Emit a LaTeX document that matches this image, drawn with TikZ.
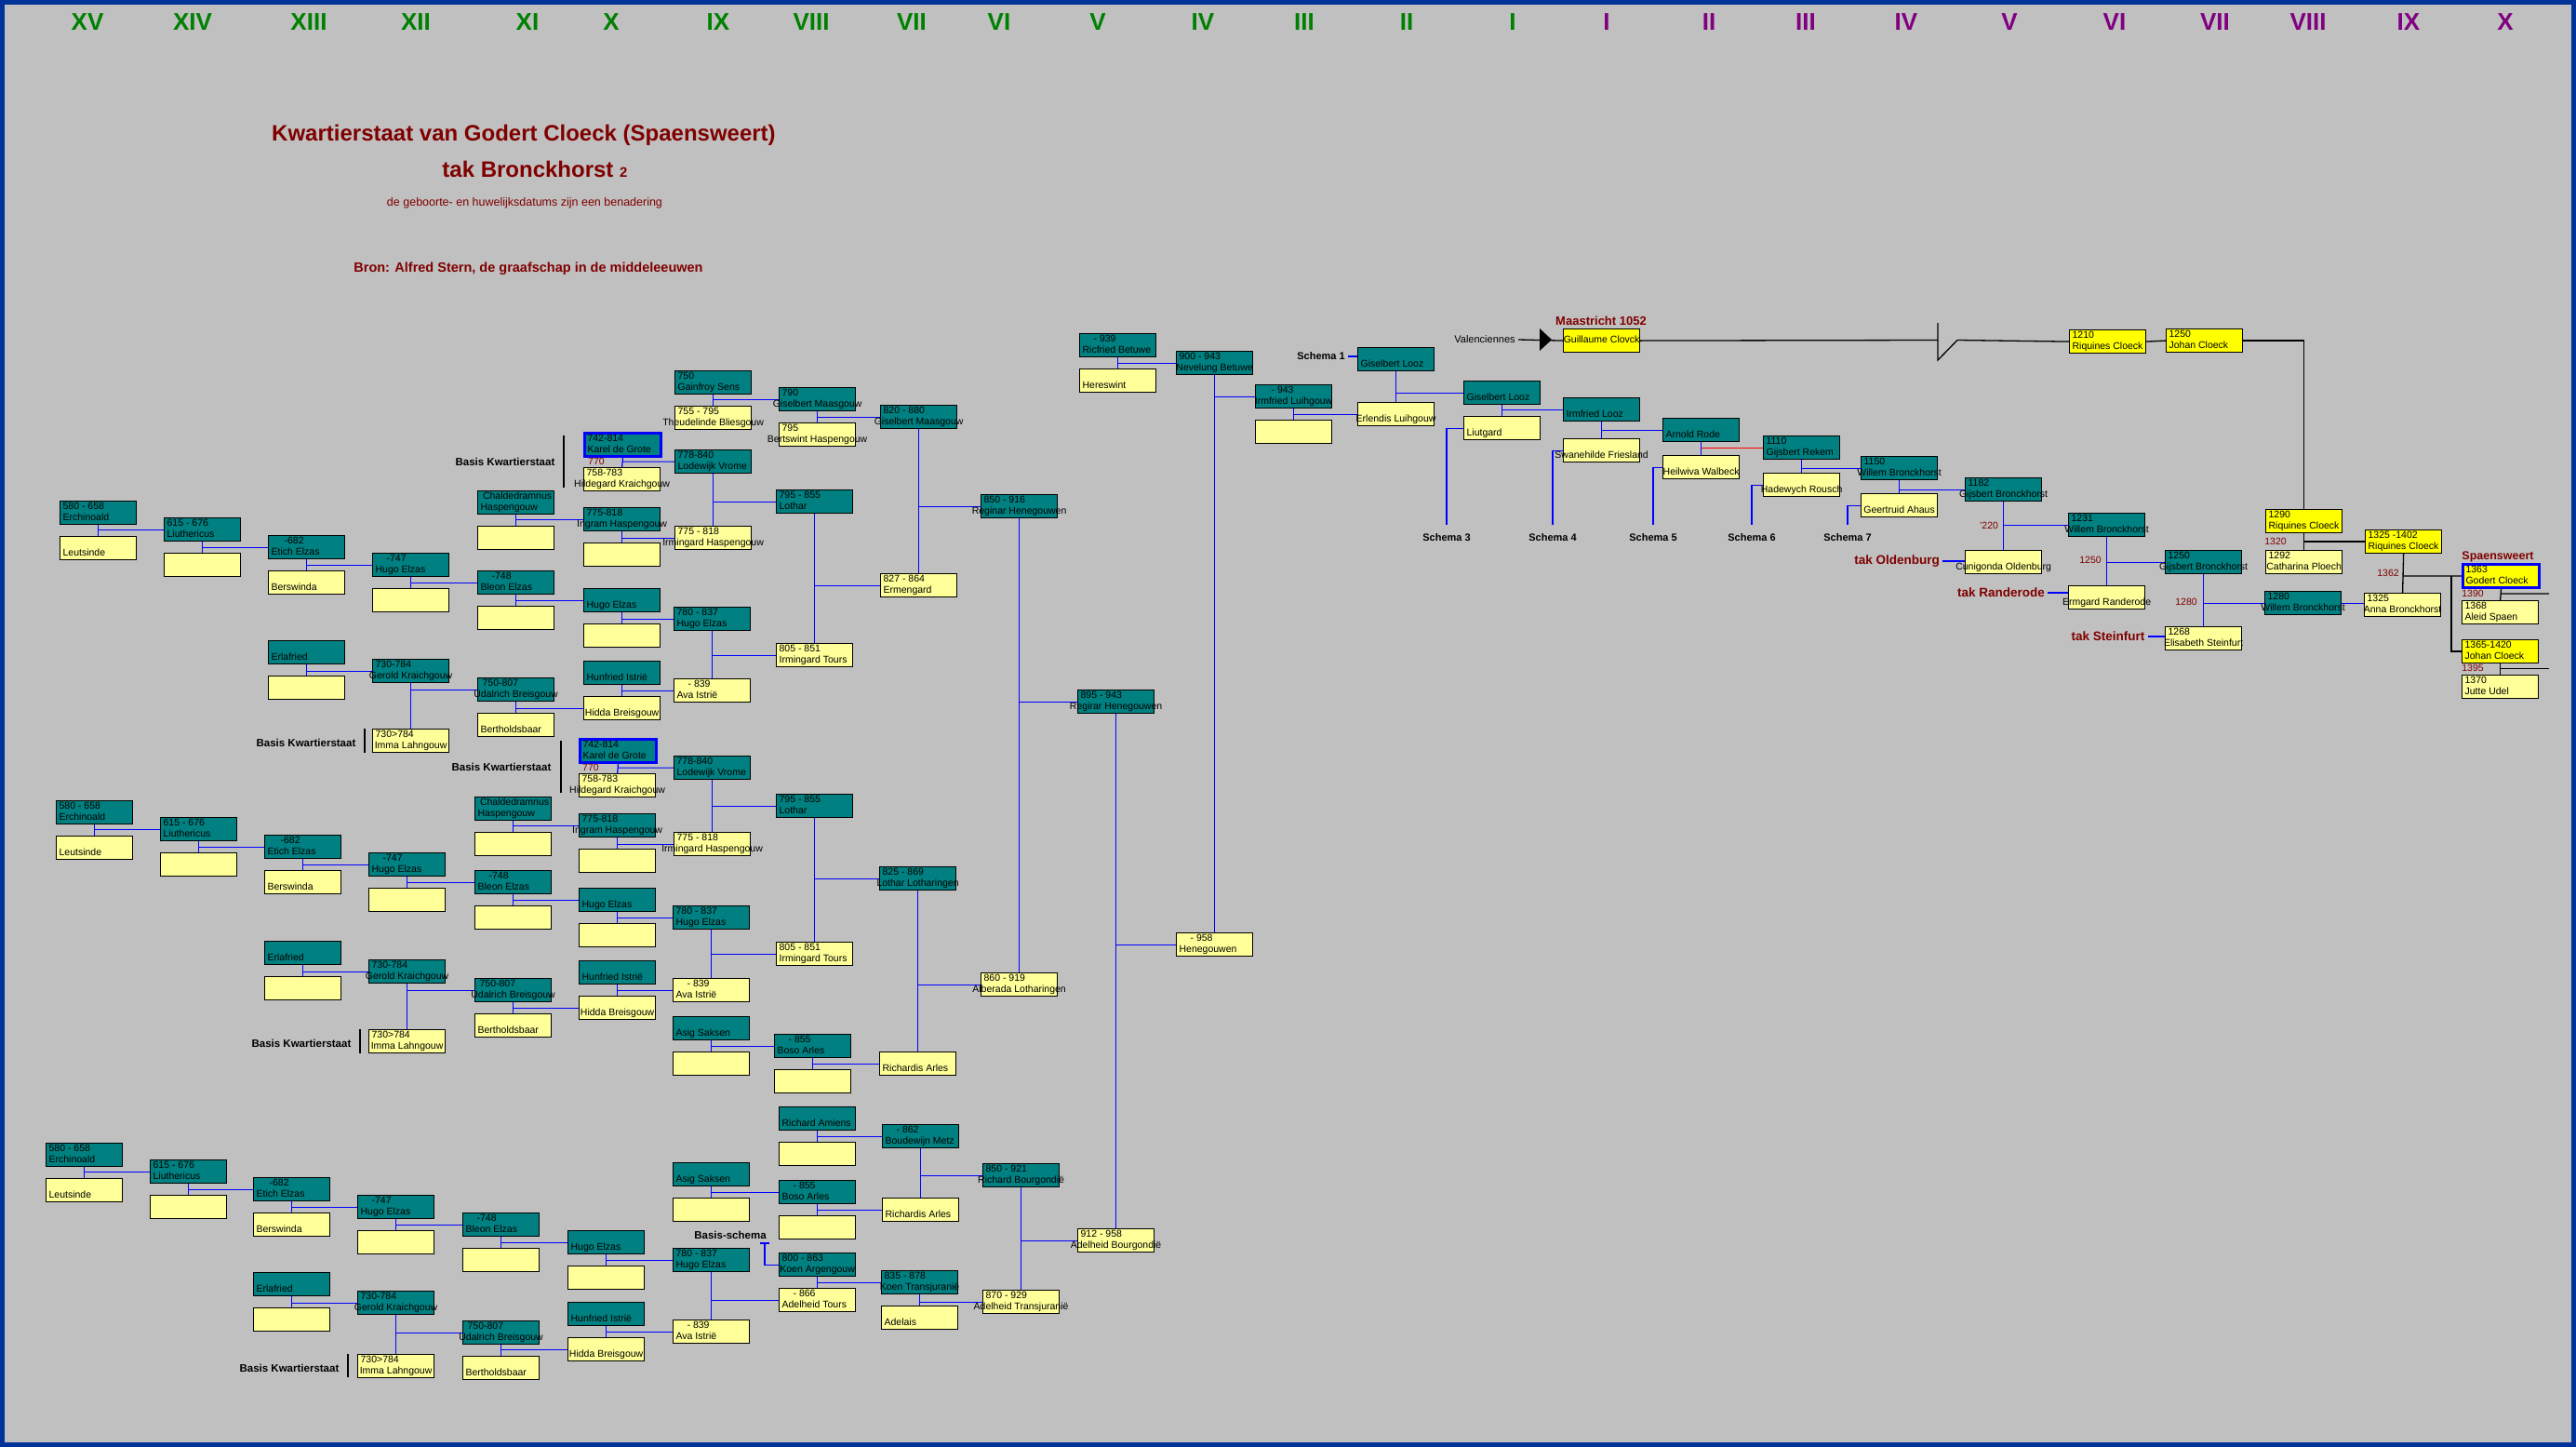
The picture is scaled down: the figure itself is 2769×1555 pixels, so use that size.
\documentclass[tikz,border=0pt]{standalone}
\usepackage{fontspec}
\setmainfont{Liberation Sans}
\usepackage{tikz}
\definecolor{Teal}{HTML}{008080}
\definecolor{Geel}{HTML}{FFFF99}
\definecolor{Felgeel}{HTML}{FFFF00}
\definecolor{Grijs}{HTML}{C0C0C0}
\definecolor{Kader}{HTML}{003399}
\definecolor{DarkRed}{HTML}{800000}
\definecolor{Groen}{HTML}{008000}
\definecolor{Paars}{HTML}{800080}
\definecolor{Lijn}{HTML}{0000FF}
\pgfdeclarelayer{achter}
\pgfdeclarelayer{lijnen}
\pgfsetlayers{achter,lijnen,main}
\newcommand\rg[1]{\hbox to 76pt{\strut\hss#1\hskip 0pt plus 1fill\hss}}
\newcommand\tw[2]{\rg{#1}\\\rg{#2}}

\begin{document}
\begin{tikzpicture}[x=1pt, y=-1pt,
	persoon/.style={draw=black, line width=1.2pt, minimum width=82pt, minimum height=25pt, inner xsep=3pt, inner ysep=0.5pt, anchor=north west, align=left, font=\fontsize{10.5}{12}\selectfont},
	man/.style={persoon, fill=Teal},
	vrouw/.style={persoon, fill=Geel},
	cloeck/.style={persoon, fill=Felgeel},
	kdg/.style={draw=Lijn, line width=3pt},
	lijn/.style={draw=Lijn, line width=1.2pt},
	zwart/.style={draw=black, line width=1.3pt},
	basis/.style={font=\fontsize{11.5}{13}\selectfont\bfseries},
	schema/.style={font=\fontsize{11}{13}\selectfont\bfseries},
	jaar/.style={text=DarkRed, font=\fontsize{10.5}{12}\selectfont},
	tak/.style={text=DarkRed, font=\fontsize{13.5}{16}\selectfont\bfseries},
	gen/.style={font=\fontsize{26}{30}\selectfont\bfseries}]

	\begin{pgfonlayer}{achter}
	\fill[Grijs] (0,0) rectangle (2769,1555);
	\draw[Kader, line width=5pt] (2.5,2.5) rectangle (2766.5,1552.5);
	\end{pgfonlayer}
	\useasboundingbox (0,0) rectangle (2769,1555);

	% generaties
	\node[gen, Groen] (gXV) at (94,24) {XV};
	\node[gen, Groen] (gXIV) at (207,24) {XIV};
	\node[gen, Groen] (gXIII) at (332,24) {XIII};
	\node[gen, Groen] (gXII) at (447,24) {XII};
	\node[gen, Groen] (gXI) at (567,24) {XI};
	\node[gen, Groen] (gX) at (657,24) {X};
	\node[gen, Groen] (gIX) at (772,24) {IX};
	\node[gen, Groen] (gVIII) at (872,24) {VIII};
	\node[gen, Groen] (gVII) at (980,24) {VII};
	\node[gen, Groen] (gVI) at (1074,24) {VI};
	\node[gen, Groen] (gV) at (1180,24) {V};
	\node[gen, Groen] (gIV) at (1293,24) {IV};
	\node[gen, Groen] (gIII) at (1402,24) {III};
	\node[gen, Groen] (gII) at (1512,24) {II};
	\node[gen, Groen] (gI) at (1626,24) {I};
	\node[gen, Paars] (pI) at (1727,24) {I};
	\node[gen, Paars] (pII) at (1837,24) {II};
	\node[gen, Paars] (pIII) at (1941,24) {III};
	\node[gen, Paars] (pIV) at (2049,24) {IV};
	\node[gen, Paars] (pV) at (2160,24) {V};
	\node[gen, Paars] (pVI) at (2273,24) {VI};
	\node[gen, Paars] (pVII) at (2381,24) {VII};
	\node[gen, Paars] (pVIII) at (2481,24) {VIII};
	\node[gen, Paars] (pIX) at (2589,24) {IX};
	\node[gen, Paars] (pX) at (2693,24) {X};

	% titel
	\node[text=DarkRed, font=\fontsize{24}{28}\selectfont\bfseries] (titel) at (563,145) {Kwartierstaat van Godert Cloeck (Spaensweert)};
	\node[text=DarkRed, font=\fontsize{24}{28}\selectfont\bfseries] (tak) at (575,182) {tak Bronckhorst {\fontsize{15}{18}\selectfont 2}};
	\node[text=DarkRed, font=\fontsize{12.5}{15}\selectfont] (opm) at (564,218) {de geboorte- en huwelijksdatums zijn een benadering};
	\node[text=DarkRed, font=\fontsize{14.5}{17}\selectfont\bfseries] (bron) at (568,289) {Bron: Alfred Stern, de graafschap in de middeleeuwen};

	% bovenste kwartierstaat
	\node[man] (ercA) at (64,538) {\tw{580 - 658}{Erchinoald}};
	\node[vrouw] (leuA) at (64,576) {\tw{}{Leutsinde}};
	\node[man] (liuA) at (176,556) {\tw{615 - 676}{Liuthericus}};
	\node[vrouw] (liuvA) at (176,594) {};
	\node[man] (etiA) at (288,575) {\tw{\hspace*{14pt}-682}{Etich Elzas}};
	\node[vrouw] (berA) at (288,613) {\tw{}{Berswinda}};
	\node[man] (hugA) at (400,594) {\tw{\hspace*{12pt}-747}{Hugo Elzas}};
	\node[vrouw] (hugvA) at (400,632) {};
	\node[man] (chaA) at (513,527) {\tw{\hspace*{3pt}Chaldedramnus}{Haspengouw}};
	\node[vrouw] (chavA) at (513,565) {};
	\node[man] (bleA) at (513,613) {\tw{\hspace*{12pt}-748}{Bleon Elzas}};
	\node[vrouw] (blevA) at (513,651) {};
	\node[man] (erlA) at (288,688) {\tw{}{Erlafried}};
	\node[vrouw] (erlvA) at (288,726) {};
	\node[man] (gerA) at (400,708) {\tw{730-784}{Gerold Kraichgouw}};
	\node[vrouw] (immA) at (400,783) {\tw{730>784}{Imma Lahngouw}};
	\node[man] (udaA) at (513,728) {\tw{\hspace*{2pt}750-807}{Udalrich Breisgouw}};
	\node[vrouw] (bertA) at (513,766) {\tw{}{Bertholdsbaar}};
	\node[man, kdg] (karA) at (627,464) {\tw{742-814}{Karel de Grote}};
	\node[vrouw] (hilA) at (627,502) {\tw{758-783}{Hildegard Kraichgouw}};
	\node[man] (ingA) at (627,545) {\tw{775-818}{Ingram Haspengouw}};
	\node[vrouw] (ingvA) at (627,583) {};
	\node[man] (hu2A) at (627,632) {\tw{}{Hugo Elzas}};
	\node[vrouw] (hu2vA) at (627,670) {};
	\node[man] (hunA) at (627,710) {\tw{}{Hunfried Istrië}};
	\node[vrouw] (hidA) at (627,748) {\tw{}{Hidda Breisgouw}};
	\node[man] (gaiA) at (725,398) {\tw{750}{Gainfroy Sens}};
	\node[vrouw] (theA) at (725,436) {\tw{755 - 795}{Theudelinde Bliesgouw}};
	\node[man] (lodA) at (725,483) {\tw{778-840}{Lodewijk Vrome}};
	\node[vrouw] (irhA) at (725,565) {\tw{775 - 818}{Irmingard Haspengouw}};
	\node[man] (hu3A) at (724,652) {\tw{780 - 837}{Hugo Elzas}};
	\node[vrouw] (avaA) at (724,729) {\tw{\hspace*{12pt}- 839}{Ava Istrië}};
	\node[man] (gisA) at (837,416) {\tw{790}{Giselbert Maasgouw}};
	\node[vrouw] (bswA) at (837,454) {\tw{795}{Bertswint Haspengouw}};
	\node[man] (lotA) at (834,526) {\tw{795 - 855}{Lothar}};
	\node[vrouw] (irtA) at (834,691) {\tw{805 - 851}{Irmingard Tours}};
	\node[basis] (bkA) at (543,496) {Basis Kwartierstaat};
	\node[jaar] (jkA) at (641,496) {770};
	\node[basis] (bkA2) at (329,798) {Basis Kwartierstaat};

	% middelste kwartierstaat
	\node[man] (ercB) at (60,860) {\tw{580 - 658}{Erchinoald}};
	\node[vrouw] (leuB) at (60,898) {\tw{}{Leutsinde}};
	\node[man] (liuB) at (172,878) {\tw{615 - 676}{Liuthericus}};
	\node[vrouw] (liuvB) at (172,916) {};
	\node[man] (etiB) at (284,897) {\tw{\hspace*{14pt}-682}{Etich Elzas}};
	\node[vrouw] (berB) at (284,935) {\tw{}{Berswinda}};
	\node[man] (hugB) at (396,916) {\tw{\hspace*{12pt}-747}{Hugo Elzas}};
	\node[vrouw] (hugvB) at (396,954) {};
	\node[man] (erlB) at (284,1011) {\tw{}{Erlafried}};
	\node[vrouw] (erlvB) at (284,1049) {};
	\node[man] (gerB) at (396,1031) {\tw{730-784}{Gerold Kraichgouw}};
	\node[vrouw] (immB) at (396,1106) {\tw{730>784}{Imma Lahngouw}};
	\node[man] (chaB) at (510,856) {\tw{\hspace*{3pt}Chaldedramnus}{Haspengouw}};
	\node[vrouw] (chavB) at (510,894) {};
	\node[man] (bleB) at (510,935) {\tw{\hspace*{12pt}-748}{Bleon Elzas}};
	\node[vrouw] (blevB) at (510,973) {};
	\node[man] (udaB) at (510,1051) {\tw{\hspace*{2pt}750-807}{Udalrich Breisgouw}};
	\node[vrouw] (bertB) at (510,1089) {\tw{}{Bertholdsbaar}};
	\node[man, kdg] (karB) at (622,793) {\tw{742-814}{Karel de Grote}};
	\node[vrouw] (hilB) at (622,831) {\tw{758-783}{Hildegard Kraichgouw}};
	\node[man] (ingB) at (622,874) {\tw{775-818}{Ingram Haspengouw}};
	\node[vrouw] (ingvB) at (622,912) {};
	\node[man] (hu2B) at (622,954) {\tw{}{Hugo Elzas}};
	\node[vrouw] (hu2vB) at (622,992) {};
	\node[man] (hunB) at (622,1032) {\tw{}{Hunfried Istrië}};
	\node[vrouw] (hidB) at (622,1070) {\tw{}{Hidda Breisgouw}};
	\node[man] (lodB) at (724,812) {\tw{778-840}{Lodewijk Vrome}};
	\node[vrouw] (irhB) at (724,894) {\tw{775 - 818}{Irmingard Haspengouw}};
	\node[man] (hu3B) at (723,973) {\tw{780 - 837}{Hugo Elzas}};
	\node[vrouw] (avaB) at (723,1051) {\tw{\hspace*{12pt}- 839}{Ava Istrië}};
	\node[man] (asiB) at (723,1092) {\tw{}{Asig Saksen}};
	\node[vrouw] (asivB) at (723,1130) {};
	\node[man] (lotB) at (834,853) {\tw{795 - 855}{Lothar}};
	\node[vrouw] (irtB) at (834,1012) {\tw{805 - 851}{Irmingard Tours}};
	\node[man] (bosB) at (832,1111) {\tw{\hspace*{12pt}- 855}{Boso Arles}};
	\node[vrouw] (bosvB) at (832,1149) {};
	\node[man] (lolB) at (945,931) {\tw{825 - 869}{Lothar Lotharingen}};
	\node[vrouw] (ricB) at (945,1130) {\tw{}{Richardis Arles}};
	\node[vrouw] (albB) at (1054,1045) {\tw{860 - 919}{Alberada Lotharingen}};
	\node[basis] (bkB) at (539,824) {Basis Kwartierstaat};
	\node[jaar] (jkB) at (635,825) {770};
	\node[basis] (bkB2) at (324,1121) {Basis Kwartierstaat};

	% onderste kwartierstaat
	\node[man] (ercC) at (49,1228) {\tw{580 - 658}{Erchinoald}};
	\node[vrouw] (leuC) at (49,1266) {\tw{}{Leutsinde}};
	\node[man] (liuC) at (161,1246) {\tw{615 - 676}{Liuthericus}};
	\node[vrouw] (liuvC) at (161,1284) {};
	\node[man] (etiC) at (272,1265) {\tw{\hspace*{14pt}-682}{Etich Elzas}};
	\node[vrouw] (berC) at (272,1303) {\tw{}{Berswinda}};
	\node[man] (hugC) at (384,1284) {\tw{\hspace*{12pt}-747}{Hugo Elzas}};
	\node[vrouw] (hugvC) at (384,1322) {};
	\node[man] (bleC) at (497,1303) {\tw{\hspace*{12pt}-748}{Bleon Elzas}};
	\node[vrouw] (blevC) at (497,1341) {};
	\node[man] (erlC) at (272,1367) {\tw{}{Erlafried}};
	\node[vrouw] (erlvC) at (272,1405) {};
	\node[man] (gerC) at (384,1387) {\tw{730-784}{Gerold Kraichgouw}};
	\node[vrouw] (immC) at (384,1455) {\tw{730>784}{Imma Lahngouw}};
	\node[man] (udaC) at (497,1419) {\tw{\hspace*{2pt}750-807}{Udalrich Breisgouw}};
	\node[vrouw] (bertC) at (497,1457) {\tw{}{Bertholdsbaar}};
	\node[man] (hu2C) at (610,1322) {\tw{}{Hugo Elzas}};
	\node[vrouw] (hu2vC) at (610,1360) {};
	\node[man] (hunC) at (610,1399) {\tw{}{Hunfried Istrië}};
	\node[vrouw] (hidC) at (610,1437) {\tw{}{Hidda Breisgouw}};
	\node[man] (hu3C) at (723,1341) {\tw{780 - 837}{Hugo Elzas}};
	\node[vrouw] (avaC) at (723,1418) {\tw{\hspace*{12pt}- 839}{Ava Istrië}};
	\node[man] (asiC) at (723,1249) {\tw{}{Asig Saksen}};
	\node[vrouw] (asivC) at (723,1287) {};
	\node[man] (ramC) at (837,1189) {\tw{}{Richard Amiens}};
	\node[vrouw] (ramvC) at (837,1227) {};
	\node[man] (bosC) at (837,1268) {\tw{\hspace*{12pt}- 855}{Boso Arles}};
	\node[vrouw] (bosvC) at (837,1306) {};
	\node[man] (koaC) at (837,1346) {\tw{800 - 863}{Koen Argengouw}};
	\node[vrouw] (adtC) at (837,1384) {\tw{\hspace*{12pt}- 866}{Adelheid Tours}};
	\node[man] (bouC) at (948,1208) {\tw{\hspace*{12pt}- 862}{Boudewijn Metz}};
	\node[vrouw] (ricC) at (948,1287) {\tw{}{Richardis Arles}};
	\node[man] (kotC) at (947,1365) {\tw{835 - 878}{Koen Transjuranië}};
	\node[vrouw] (adeC) at (947,1403) {\tw{}{Adelais}};
	\node[man] (rbuC) at (1056,1250) {\tw{850 - 921}{Richard Bourgondië}};
	\node[vrouw] (atrC) at (1056,1386) {\tw{870 - 929}{Adelheid Transjuranië}};
	\node[vrouw] (abuC) at (1158,1320) {\tw{912 - 958}{Adelheid Bourgondië}};
	\node[basis] (bkC) at (311,1470) {Basis Kwartierstaat};
	\node[basis] (bsC) at (785,1327) {Basis-schema};
	\coordinate (bsk) at (822,1336);

	% middenstuk
	\node[man] (gis2) at (946,435) {\tw{820 - 880}{Giselbert Maasgouw}};
	\node[vrouw] (ermA) at (946,616) {\tw{827 - 864}{Ermengard}};
	\node[man] (reg1) at (1054,531) {\tw{850 - 916}{Reginar Henegouwen}};
	\node[man] (reg2) at (1158,741) {\tw{895 - 943}{Regirar Henegouwen}};
	\node[man] (ric) at (1160,358) {\tw{\hspace*{12pt}- 939}{Ricfried Betuwe}};
	\node[vrouw] (her) at (1160,396) {\tw{}{Hereswint}};
	\node[man] (nev) at (1264,377) {\tw{900 - 943}{Nevelung Betuwe}};
	\node[vrouw] (hen) at (1264,1002) {\tw{\hspace*{12pt}- 958}{Henegouwen}};
	\node[man] (irm) at (1349,413) {\tw{\hspace*{14pt}- 943}{Irmfried Luihgouw}};
	\node[vrouw] (irmv) at (1349,451) {};

	% Looz en Bronckhorst
	\node[schema] (s1) at (1420,383) {Schema 1};
	\node[man] (gl1) at (1459,373) {\tw{}{Giselbert Looz}};
	\node[vrouw] (erl) at (1459,432) {\tw{}{Erlendis Luihgouw}};
	\node[man] (gl2) at (1573,409) {\tw{}{Giselbert Looz}};
	\node[vrouw] (liut) at (1573,447) {\tw{}{Liutgard}};
	\node[man] (irl) at (1680,427) {\tw{}{Irmfried Looz}};
	\node[vrouw] (swa) at (1680,471) {\tw{}{Swanehilde Friesland}};
	\node[man] (arn) at (1787,449) {\tw{}{Arnold Rode}};
	\node[vrouw] (hei) at (1787,489) {\tw{}{Heilwiva Walbeck}};
	\node[man] (gij) at (1895,468) {\tw{1110}{Gijsbert Rekem}};
	\node[vrouw] (had) at (1895,508) {\tw{}{Hadewych Rousch}};
	\node[man] (wil1) at (2000,490) {\tw{1150}{Willem Bronckhorst}};
	\node[vrouw] (gee) at (2000,530) {\tw{}{Geertruid Ahaus}};
	\node[man] (gij2) at (2112,513) {\tw{1182}{Gijsbert Bronckhorst}};
	\node[vrouw] (cun) at (2112,591) {\tw{}{Cunigonda Oldenburg}};
	\node[man] (wil2) at (2223,551) {\tw{1231}{Willem Bronckhorst}};
	\node[vrouw] (erg) at (2223,629) {\tw{}{Ermgard Randerode}};
	\node[man] (gij3) at (2327,591) {\tw{1250}{Gijsbert Bronckhorst}};
	\node[vrouw] (eli) at (2327,673) {\tw{1268}{Elisabeth Steinfurt}};
	\node[man] (wil3) at (2434,635) {\tw{1280}{Willem Bronckhorst}};
	\node[vrouw] (ann) at (2541,637) {\tw{1325}{Anna Bronckhorst}};
	\node[schema] (s3) at (1555,578) {Schema 3};
	\node[schema] (s4) at (1669,578) {Schema 4};
	\node[schema] (s5) at (1777,578) {Schema 5};
	\node[schema] (s6) at (1883,578) {Schema 6};
	\node[schema] (s7) at (1986,578) {Schema 7};
	\node[tak] (tO) at (2039,603) {tak Oldenburg};
	\node[tak] (tR) at (2151,637) {tak Randerode};
	\node[tak] (tS) at (2266,684) {tak Steinfurt};
	\node[jaar] (j1220) at (2138,565) {'220};
	\node[jaar] (j1250) at (2247,602) {1250};
	\node[jaar] (j1280) at (2350,647) {1280};

	% Cloeck
	\node[font=\fontsize{11}{13}\selectfont] (val) at (1596,365) {Valenciennes};
	\node[tak, font=\fontsize{13}{15}\selectfont\bfseries] (maa) at (1721,345) {Maastricht 1052};
	\node[cloeck] (gui) at (1680,353) {\rg{Guillaume Clovck}};
	\node[cloeck] (riq1) at (2224,354) {\tw{1210}{Riquines Cloeck}};
	\node[cloeck] (joh1) at (2328,353) {\tw{1250}{Johan Cloeck}};
	\node[cloeck] (riq2) at (2435,547) {\tw{1290}{Riquines Cloeck}};
	\node[vrouw] (cat) at (2435,591) {\tw{1292}{Catharina Ploech}};
	\node[cloeck] (riq3) at (2542,569) {\tw{1325 -1402}{Riquines Cloeck}};
	\node[cloeck, kdg] (god) at (2646,605) {\tw{1363}{Godert Cloeck}};
	\node[vrouw] (ale) at (2646,645) {\tw{1368}{Aleid Spaen}};
	\node[cloeck] (joh2) at (2646,687) {\tw{1365-1420}{Johan Cloeck}};
	\node[vrouw] (jut) at (2646,725) {\tw{1370}{Jutte Udel}};
	\node[tak, font=\fontsize{12.5}{15}\selectfont\bfseries] (spa) at (2685,598) {Spaensweert};
	\node[jaar] (j1320) at (2446,582) {1320};
	\node[jaar] (j1362) at (2567,616) {1362};
	\node[jaar] (j1390) at (2658,638) {1390};
	\node[jaar] (j1395) at (2658,718) {1395};
	\coordinate (breuk) at (2083,365.5);
	\coordinate (rand1) at (2740,638);
	\coordinate (rand2) at (2740,718.5);

	\begin{pgfonlayer}{lijnen}
	\draw[zwart] (606,468) -- (606,524);
	\draw[zwart] (392,783) -- (392,809);
	\draw[zwart] (603,796) -- (603,852);
	\draw[zwart] (387,1106) -- (387,1132);
	\draw[zwart] (374,1455) -- (374,1480);

	\draw[lijn] (ercA.south) -- (leuA.north) (liuA.west) -- (liuA.west -| ercA.south);
	\draw[lijn] (liuA.south) -- (liuvA.north) (etiA.west) -- (etiA.west -| liuA.south);
	\draw[lijn] (etiA.south) -- (berA.north) (hugA.west) -- (hugA.west -| etiA.south);
	\draw[lijn] (hugA.south) -- (hugvA.north) (bleA.west) -- (bleA.west -| hugA.south);
	\draw[lijn] (chaA.south) -- (chavA.north) (ingA.west) -- (ingA.west -| chaA.south);
	\draw[lijn] (bleA.south) -- (blevA.north) (hu2A.west) -- (hu2A.west -| bleA.south);
	\draw[lijn] (erlA.south) -- (erlvA.north) (gerA.west) -- (gerA.west -| erlA.south);
	\draw[lijn] (gerA.south) -- (immA.north) (udaA.west) -- (udaA.west -| gerA.south);
	\draw[lijn] (udaA.south) -- (bertA.north) (hidA.west) -- (hidA.west -| udaA.south);
	\draw[lijn] (karA.south) -- (hilA.north) (lodA.west) -- (lodA.west -| karA.south);
	\draw[lijn] (ingA.south) -- (ingvA.north) (irhA.west) -- (irhA.west -| ingA.south);
	\draw[lijn] (hu2A.south) -- (hu2vA.north) (hu3A.west) -- (hu3A.west -| hu2A.south);
	\draw[lijn] (hunA.south) -- (hidA.north) (avaA.west) -- (avaA.west -| hunA.south);
	\draw[lijn] (gaiA.south) -- (theA.north) (gisA.west) -- (gisA.west -| gaiA.south);
	\draw[lijn] (lodA.south) -- (irhA.north) (lotA.west) -- (lotA.west -| lodA.south);
	\draw[lijn] (hu3A.south) -- (avaA.north) (irtA.west) -- (irtA.west -| hu3A.south);
	\draw[lijn] (gisA.south) -- (bswA.north) (gis2.west) -- (gis2.west -| gisA.south);
	\draw[lijn] (lotA.south) -- (irtA.north) (ermA.west) -- (ermA.west -| lotA.south);

	\draw[lijn] (ercB.south) -- (leuB.north) (liuB.west) -- (liuB.west -| ercB.south);
	\draw[lijn] (liuB.south) -- (liuvB.north) (etiB.west) -- (etiB.west -| liuB.south);
	\draw[lijn] (etiB.south) -- (berB.north) (hugB.west) -- (hugB.west -| etiB.south);
	\draw[lijn] (hugB.south) -- (hugvB.north) (bleB.west) -- (bleB.west -| hugB.south);
	\draw[lijn] (erlB.south) -- (erlvB.north) (gerB.west) -- (gerB.west -| erlB.south);
	\draw[lijn] (gerB.south) -- (immB.north) (udaB.west) -- (udaB.west -| gerB.south);
	\draw[lijn] (chaB.south) -- (chavB.north) (ingB.west) -- (ingB.west -| chaB.south);
	\draw[lijn] (bleB.south) -- (blevB.north) (hu2B.west) -- (hu2B.west -| bleB.south);
	\draw[lijn] (udaB.south) -- (bertB.north) (hidB.west) -- (hidB.west -| udaB.south);
	\draw[lijn] (karB.south) -- (hilB.north) (lodB.west) -- (lodB.west -| karB.south);
	\draw[lijn] (ingB.south) -- (ingvB.north) (irhB.west) -- (irhB.west -| ingB.south);
	\draw[lijn] (hu2B.south) -- (hu2vB.north) (hu3B.west) -- (hu3B.west -| hu2B.south);
	\draw[lijn] (hunB.south) -- (hidB.north) (avaB.west) -- (avaB.west -| hunB.south);
	\draw[lijn] (lodB.south) -- (irhB.north) (lotB.west) -- (lotB.west -| lodB.south);
	\draw[lijn] (hu3B.south) -- (avaB.north) (irtB.west) -- (irtB.west -| hu3B.south);
	\draw[lijn] (asiB.south) -- (asivB.north) (bosB.west) -- (bosB.west -| asiB.south);
	\draw[lijn] (lotB.south) -- (irtB.north) (lolB.west) -- (lolB.west -| lotB.south);
	\draw[lijn] (bosB.south) -- (bosvB.north) (ricB.west) -- (ricB.west -| bosB.south);
	\draw[lijn] (lolB.south) -- (ricB.north) (albB.west) -- (albB.west -| lolB.south);

	\draw[lijn] (ercC.south) -- (leuC.north) (liuC.west) -- (liuC.west -| ercC.south);
	\draw[lijn] (liuC.south) -- (liuvC.north) (etiC.west) -- (etiC.west -| liuC.south);
	\draw[lijn] (etiC.south) -- (berC.north) (hugC.west) -- (hugC.west -| etiC.south);
	\draw[lijn] (hugC.south) -- (hugvC.north) (bleC.west) -- (bleC.west -| hugC.south);
	\draw[lijn] (bleC.south) -- (blevC.north) (hu2C.west) -- (hu2C.west -| bleC.south);
	\draw[lijn] (erlC.south) -- (erlvC.north) (gerC.west) -- (gerC.west -| erlC.south);
	\draw[lijn] (gerC.south) -- (immC.north) (udaC.west) -- (udaC.west -| gerC.south);
	\draw[lijn] (udaC.south) -- (bertC.north) (hidC.west) -- (hidC.west -| udaC.south);
	\draw[lijn] (hu2C.south) -- (hu2vC.north) (hu3C.west) -- (hu3C.west -| hu2C.south);
	\draw[lijn] (hunC.south) -- (hidC.north) (avaC.west) -- (avaC.west -| hunC.south);
	\draw[lijn] (hu3C.south) -- (avaC.north) (adtC.west) -- (adtC.west -| hu3C.south);
	\draw[lijn] (asiC.south) -- (asivC.north) (bosC.west) -- (bosC.west -| asiC.south);
	\draw[lijn] (bosC.south) -- (bosvC.north) (ricC.west) -- (ricC.west -| bosC.south);
	\draw[lijn] (ramC.south) -- (ramvC.north) (bouC.west) -- (bouC.west -| ramC.south);
	\draw[lijn] (bouC.south) -- (ricC.north) (rbuC.west) -- (rbuC.west -| bouC.south);
	\draw[lijn] (koaC.south) -- (adtC.north) (kotC.west) -- (kotC.west -| koaC.south);
	\draw[lijn] (kotC.south) -- (adeC.north) (atrC.west) -- (atrC.west -| kotC.south);
	\draw[lijn] (rbuC.south) -- (atrC.north) (abuC.west) -- (abuC.west -| rbuC.south);
	\draw[lijn] ([xshift=-5pt]bsk) -- ([xshift=5pt]bsk) (bsk) |- (koaC.west);

	\draw[lijn] (gis2.south) -- (ermA.north) (reg1.west) -- (reg1.west -| gis2.south);
	\draw[lijn] (reg1.south) -- (albB.north) (reg2.west) -- (reg2.west -| reg1.south);
	\draw[lijn] (reg2.south) -- (abuC.north) (hen.west) -- (hen.west -| reg2.south);
	\draw[lijn] (ric.south) -- (her.north) (nev.west) -- (nev.west -| ric.south);
	\draw[lijn] (nev.south) -- (hen.north) (irm.west) -- (irm.west -| nev.south);
	\draw[lijn] (irm.south) -- (irmv.north) (erl.west) -- (erl.west -| irm.south);

	\draw[lijn] (s1.east) -- (s1.east -| gl1.west);
	\draw[lijn] (gl1.south) -- (erl.north) (gl2.west) -- (gl2.west -| gl1.south);
	\draw[lijn] (gl2.south) -- (liut.north) (irl.west) -- (irl.west -| gl2.south);
	\draw[lijn] (irl.south) -- (swa.north) (arn.west) -- (arn.west -| irl.south);
	\draw[lijn] (arn.south) -- (hei.north);
	\draw[lijn, red] (gij.west) -- (gij.west -| arn.south);
	\draw[lijn] (gij.south) -- (had.north) (wil1.west) -- (wil1.west -| gij.south);
	\draw[lijn] (wil1.south) -- (gee.north) (gij2.west) -- (gij2.west -| wil1.south);
	\draw[lijn] (gij2.south) -- (cun.north) (wil2.west) -- (wil2.west -| gij2.south);
	\draw[lijn] (wil2.south) -- (erg.north) (gij3.west) -- (gij3.west -| wil2.south);
	\draw[lijn] (gij3.south) -- (eli.north) (wil3.west) -- (wil3.west -| gij3.south);
	\draw[lijn] (wil3.east) -- (wil3.east -| ann.west);
	\draw[lijn] (liut.west) -| ([yshift=6pt]s3.north);
	\draw[lijn] (swa.west) -| ([yshift=6pt]s4.north);
	\draw[lijn] (hei.west) -| ([yshift=6pt]s5.north);
	\draw[lijn] (had.west) -| ([yshift=6pt]s6.north);
	\draw[lijn] (gee.west) -| ([yshift=6pt]s7.north);
	\draw[lijn] (tO.east) -- (tO.east -| cun.west);
	\draw[lijn] (tR.east) -- (tR.east -| erg.west);
	\draw[lijn] (tS.east) -- (tS.east -| eli.west);

	\draw[zwart] (val.east) -- (gui.west);
	\fill[black] (1655,353) -- (1668,365) -- (1655,377) -- cycle;
	\draw[zwart] (gui.east) -- (breuk);
	\draw[zwart] (2083,347) -- (2083,387) -- (2104,365.5) -- (riq1.west);
	\draw[zwart] (riq1.east) -- (joh1.west);
	\draw[zwart] (joh1.east) -| (riq2.north);
	\draw[zwart] (riq2.south) -- (cat.north) (riq3.west) -- (riq3.west -| riq2.south);
	\draw[zwart] (riq3.south) -- (ann.north) (god.west) -- (god.west -| riq3.south);
	\draw[zwart] ([xshift=-11pt]god.west) |- (joh2.west);
	\draw[zwart] (god.south) -- (ale.north) (rand1) -- (rand1 -| god.south);
	\draw[zwart] (joh2.south) -- (jut.north) (rand2) -- (rand2 -| joh2.south);
	\end{pgfonlayer}

\end{tikzpicture}
\end{document}
